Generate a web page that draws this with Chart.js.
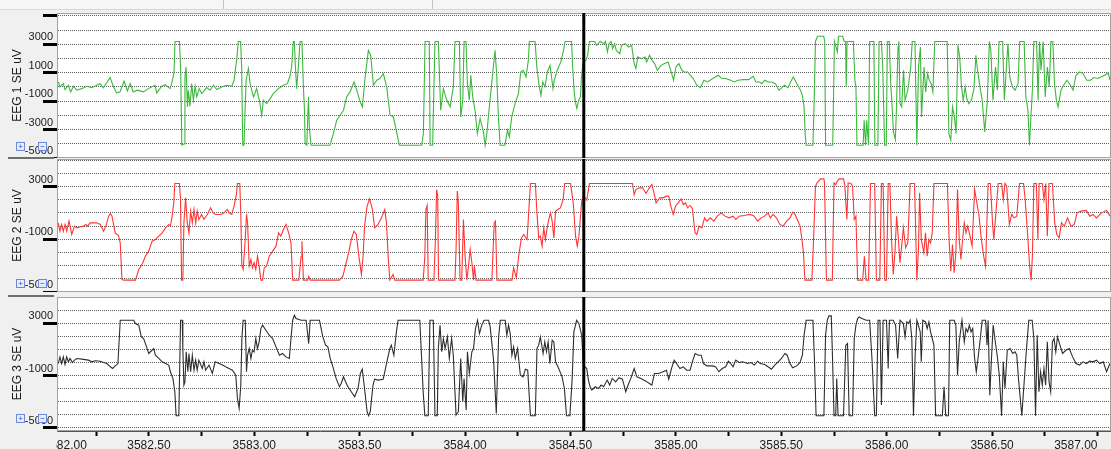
<!DOCTYPE html>
<html>
<head>
<meta charset="utf-8">
<title>EEG</title>
<script src="https://cdn.jsdelivr.net/npm/chart.js@4.4.0/dist/chart.umd.min.js"></script>
<style>
  html, body { margin: 0; padding: 0; }
  body { width: 1111px; height: 449px; background: #f0f0f0; position: relative; overflow: hidden; font-family: "Liberation Sans", Arial, sans-serif; }
  canvas { position: absolute; left: 0; }
  .topbar { position: absolute; left: 0; top: 0; width: 1111px; height: 9px; background: #f6f6f6; border-bottom: 1px solid #dadada; }
  .tab { position: absolute; top: 0; height: 9px; border-left: 1px solid #c4c4c4; }
  .sep { position: absolute; left: 8px; width: 46px; height: 2px; background: #6e6e6e; }
  .zbtn { position: absolute; width: 7px; height: 7px; border: 1px solid #6d88d8; background: #e6ecfb; color: #2b4cb3; font-size: 8px; line-height: 7px; text-align: center; }
  .axiscover { position: absolute; left: 0; top: 432px; width: 56px; height: 17px; background: #f0f0f0; }
</style>
</head>
<body>
<div class="topbar"></div>
<div class="tab" style="left:223px"></div>
<div class="tab" style="left:432px"></div>
<canvas id="eeg1" width="1111" height="145" style="top:13px"></canvas>
<canvas id="eeg2" width="1111" height="133" style="top:159px"></canvas>
<canvas id="eeg3" width="1111" height="152" style="top:297px"></canvas>
<div class="sep" style="top:157px"></div>
<div class="sep" style="top:295px"></div>
<div class="zbtn" style="left:16px;top:142px">+</div><div class="zbtn" style="left:38px;top:142px">&minus;</div>
<div class="zbtn" style="left:16px;top:279px">+</div><div class="zbtn" style="left:38px;top:279px">&minus;</div>
<div class="zbtn" style="left:16px;top:414px">+</div><div class="zbtn" style="left:38px;top:414px">&minus;</div>
<div class="axiscover"></div>
<script>
// channel names, time window and cursor
const channelNames = ['EEG 1 SE uV', 'EEG 2 SE uV', 'EEG 3 SE uV'];
const timeMin = 3582.064;
const timeMax = 3587.064;
const cursorTime = 3584.563;

// time axis ticks (seconds)
const majorTimes = [3582.0, 3582.5, 3583.0, 3583.5, 3584.0, 3584.5, 3585.0, 3585.5, 3586.0, 3586.5, 3587.0];
const minorTimes = [3582.25, 3582.75, 3583.25, 3583.75, 3584.25, 3584.75, 3585.25, 3585.75, 3586.25, 3586.75];

// amplitude grid (uV) and labelled ticks
const gridValues = [-5000, -4000, -3000, -2000, -1000, 0, 1000, 2000, 3000, 4000, 5000];
const eeg1Marks = [5000, 3000, 1000, -1000, -3000, -5000];
const eeg1Labels = [3000, 1000, -1000, -3000, -5000];
const eeg23Labels = [3000, -1000, -5000];

// samples: [time s, uV]
const eeg1Points = [
  [3582.071, 350], [3582.078, 0], [3582.094, 230], [3582.102, -190], [3582.118, 120], [3582.129, -350], [3582.142, 50],
  [3582.158, -230], [3582.181, -120], [3582.205, 50], [3582.229, -50], [3582.252, 120], [3582.268, 230], [3582.284, -70],
  [3582.316, 660], [3582.331, 50], [3582.347, -420], [3582.363, -350], [3582.382, 400], [3582.398, -280], [3582.411, 230],
  [3582.426, -350], [3582.445, -230], [3582.474, -350], [3582.505, -50], [3582.529, 120], [3582.537, -420], [3582.561, 50],
  [3582.577, 160], [3582.600, -120], [3582.608, 230], [3582.619, 980], [3582.624, 3200], [3582.645, 3200], [3582.651, 1050],
  [3582.656, -4100], [3582.667, -4020], [3582.671, 700], [3582.676, 1400], [3582.683, -1400], [3582.687, -230], [3582.695, -1360],
  [3582.703, 230], [3582.711, -940], [3582.719, 50], [3582.727, -700], [3582.739, -120], [3582.751, -470], [3582.774, -50],
  [3582.790, -230], [3582.806, 120], [3582.822, -190], [3582.845, 0], [3582.869, 120], [3582.893, 50], [3582.904, 470],
  [3582.917, 2000], [3582.924, 3200], [3582.935, 3200], [3582.940, 1400], [3582.945, -4100], [3582.951, -4100], [3582.961, 470],
  [3582.972, 1290], [3582.980, 230], [3582.996, -700], [3583.011, -120], [3583.024, -940], [3583.035, -1990], [3583.043, -940],
  [3583.059, -1170], [3583.075, -820], [3583.090, -470], [3583.114, -120], [3583.138, 120], [3583.157, 230], [3583.170, 820],
  [3583.177, 1400], [3583.185, 3200], [3583.190, 3200], [3583.195, 1400], [3583.201, -120], [3583.209, 1400], [3583.217, 3200],
  [3583.226, 3200], [3583.233, 0], [3583.238, -1640], [3583.241, -3980], [3583.249, -4100], [3583.257, -700], [3583.261, -2810],
  [3583.269, -4100], [3583.359, -4100], [3583.375, -3280], [3583.391, -2340], [3583.407, -1990], [3583.423, -1640], [3583.438, -700],
  [3583.454, -350], [3583.473, 350], [3583.486, -230], [3583.502, -1050], [3583.513, -1400], [3583.525, 590], [3583.541, 2570],
  [3583.552, 2220], [3583.565, 120], [3583.581, 470], [3583.596, 590], [3583.612, 940], [3583.628, 0], [3583.644, -1990],
  [3583.660, -2110], [3583.675, -3160], [3583.688, -4100], [3583.794, -4100], [3583.802, -3280], [3583.810, 3200], [3583.830, 3200],
  [3583.834, -4100], [3583.846, -4100], [3583.857, 3200], [3583.873, 3200], [3583.884, -1640], [3583.897, -120], [3583.913, -940],
  [3583.929, -1400], [3583.944, 0], [3583.952, 3200], [3583.973, 3200], [3583.979, -2110], [3583.989, -940], [3583.995, 3200],
  [3584.004, 3200], [3584.011, 230], [3584.020, -940], [3584.027, 820], [3584.036, -700], [3584.047, -1640], [3584.058, -3280],
  [3584.071, -2220], [3584.087, -3160], [3584.095, -4100], [3584.103, -3280], [3584.115, -1400], [3584.134, 1400], [3584.142, 2570],
  [3584.150, 820], [3584.158, -2110], [3584.166, -4100], [3584.189, -4100], [3584.201, -3040], [3584.210, -3510], [3584.221, -2110],
  [3584.237, -1170], [3584.253, -470], [3584.264, 1050], [3584.276, 1170], [3584.289, 700], [3584.300, 1870], [3584.305, 3200],
  [3584.332, 3200], [3584.340, 1400], [3584.352, 0], [3584.360, -590], [3584.368, 350], [3584.379, 0], [3584.390, 1050],
  [3584.403, 1520], [3584.417, -120], [3584.423, 470], [3584.437, 1170], [3584.454, 1760], [3584.467, 2570], [3584.474, 3200],
  [3584.505, 3200], [3584.510, 1400], [3584.518, -470], [3584.525, -1170], [3584.530, -1520], [3584.539, -940], [3584.547, -700],
  [3584.552, 700], [3584.559, 1640], [3584.573, 1870], [3584.581, 2220], [3584.590, 3200], [3584.615, 3200], [3584.624, 2930],
  [3584.641, 3200], [3584.658, 3040], [3584.666, 3200], [3584.675, 2460], [3584.683, 3040], [3584.692, 3200], [3584.700, 2690],
  [3584.709, 3040], [3584.717, 2570], [3584.734, 2340], [3584.742, 2930], [3584.759, 3040], [3584.776, 2810], [3584.790, 2930],
  [3584.802, 1640], [3584.810, 1290], [3584.819, 2110], [3584.836, 1990], [3584.853, 2110], [3584.861, 1760], [3584.875, 2220],
  [3584.887, 1870], [3584.899, 1640], [3584.912, 1170], [3584.929, 1520], [3584.946, 1640], [3584.963, 1760], [3584.980, 940],
  [3584.989, 470], [3585.000, 1400], [3585.014, 1640], [3585.028, 1170], [3585.039, 1050], [3585.056, 1050], [3585.082, 590],
  [3585.099, 120], [3585.116, -50], [3585.133, 470], [3585.150, 350], [3585.175, 590], [3585.201, 820], [3585.218, 590],
  [3585.235, 590], [3585.260, 470], [3585.277, 350], [3585.294, 470], [3585.319, 510], [3585.345, 510], [3585.367, 750],
  [3585.379, 350], [3585.396, 350], [3585.408, 230], [3585.421, 470], [3585.438, 350], [3585.455, 350], [3585.472, 230],
  [3585.489, -230], [3585.503, -50], [3585.515, 120], [3585.532, -50], [3585.544, 350], [3585.557, 700], [3585.574, 230],
  [3585.591, -230], [3585.600, -590], [3585.608, -1400], [3585.613, -3280], [3585.618, -4100], [3585.650, -4100], [3585.656, -940],
  [3585.662, 3200], [3585.672, 3560], [3585.701, 3560], [3585.706, 3200], [3585.710, -4100], [3585.744, -4100], [3585.752, 3200],
  [3585.766, 2460], [3585.771, 3560], [3585.791, 3560], [3585.798, 3200], [3585.805, 3200], [3585.808, 0], [3585.812, 3200],
  [3585.842, 3200], [3585.849, 470], [3585.854, 0], [3585.859, -4100], [3585.888, -4100], [3585.893, -2340], [3585.900, -4100],
  [3585.905, -2340], [3585.914, -4100], [3585.919, 3200], [3585.939, 3200], [3585.944, -4100], [3585.958, -4100], [3585.964, 3200],
  [3585.975, 3200], [3585.981, 1400], [3585.990, -4100], [3585.998, -4100], [3586.003, 3200], [3586.012, 3200], [3586.019, 230],
  [3586.024, -940], [3586.032, -3160], [3586.041, -3700], [3586.046, -1640], [3586.053, 2570], [3586.058, 3200], [3586.063, -1170],
  [3586.071, -1400], [3586.080, 1170], [3586.087, -940], [3586.100, -230], [3586.114, 1400], [3586.121, 3200], [3586.134, 3200],
  [3586.143, -4100], [3586.151, 1400], [3586.160, 2810], [3586.165, -2110], [3586.177, 1400], [3586.185, -350], [3586.194, 940],
  [3586.202, 470], [3586.211, 230], [3586.219, -350], [3586.228, 3200], [3586.287, 3200], [3586.295, -3280], [3586.304, -3740],
  [3586.312, -1400], [3586.321, -2110], [3586.329, -3280], [3586.338, 2930], [3586.346, 2110], [3586.355, 0], [3586.363, -940],
  [3586.372, 0], [3586.380, -820], [3586.389, -1170], [3586.402, -940], [3586.414, -120], [3586.423, 2220], [3586.431, 1170],
  [3586.440, 230], [3586.453, -940], [3586.465, -3160], [3586.477, -1050], [3586.487, 3200], [3586.494, 2570], [3586.504, -940],
  [3586.516, 1400], [3586.525, -230], [3586.533, 3200], [3586.550, 3200], [3586.558, -940], [3586.567, 1170], [3586.575, 3040],
  [3586.584, 700], [3586.596, 0], [3586.609, -230], [3586.623, 230], [3586.631, 3200], [3586.652, 3200], [3586.660, -700],
  [3586.670, -1640], [3586.677, -4100], [3586.691, -230], [3586.698, 3200], [3586.711, 3200], [3586.718, -940], [3586.725, 3200],
  [3586.732, 1170], [3586.742, 3200], [3586.752, -700], [3586.762, 1400], [3586.771, 0], [3586.779, 3200], [3586.788, 3200],
  [3586.796, 230], [3586.805, -940], [3586.813, -1400], [3586.827, -230], [3586.839, 120], [3586.855, 470], [3586.872, 120],
  [3586.884, -230], [3586.898, 820], [3586.915, 1050], [3586.932, 940], [3586.949, 470], [3586.966, 470], [3586.983, 660],
  [3587.000, 590], [3587.017, 700], [3587.034, 820], [3587.051, 980], [3587.059, 470]
];

const eeg2Points = [
  [3582.070, 250], [3582.078, -380], [3582.086, 130], [3582.094, -380], [3582.102, 130], [3582.110, -380], [3582.121, 380],
  [3582.134, -630], [3582.147, 0], [3582.158, -130], [3582.174, -50], [3582.190, 0], [3582.201, 130], [3582.210, 0],
  [3582.221, 250], [3582.253, 250], [3582.269, 130], [3582.285, -380], [3582.296, 0], [3582.309, 760], [3582.317, 960],
  [3582.325, 760], [3582.340, -510], [3582.356, -710], [3582.364, -1270], [3582.372, -4050], [3582.380, -4100], [3582.436, -4100],
  [3582.452, -3290], [3582.471, -2780], [3582.483, -2280], [3582.499, -1900], [3582.515, -1140], [3582.531, -1010], [3582.547, -760],
  [3582.563, -510], [3582.579, -130], [3582.594, 130], [3582.602, 0], [3582.610, 760], [3582.618, 1770], [3582.623, 3240],
  [3582.645, 3240], [3582.650, 2020], [3582.655, -4100], [3582.661, -4100], [3582.666, 250], [3582.674, 2150], [3582.682, 250],
  [3582.690, -510], [3582.698, 1140], [3582.706, 250], [3582.714, 1270], [3582.722, 250], [3582.729, 1140], [3582.737, 510],
  [3582.750, 890], [3582.761, 510], [3582.777, 890], [3582.793, 1390], [3582.804, 1010], [3582.817, 890], [3582.841, 890],
  [3582.856, 1010], [3582.872, 1270], [3582.880, 1010], [3582.893, 890], [3582.904, 1520], [3582.915, 2400], [3582.920, 3240],
  [3582.931, 3240], [3582.936, 890], [3582.941, -3040], [3582.947, -3290], [3582.957, -1010], [3582.963, 890], [3582.968, 250],
  [3582.976, -3040], [3582.984, -2530], [3582.991, -3160], [3582.999, -2780], [3583.007, -3290], [3583.015, -2280], [3583.023, -3040],
  [3583.031, -4100], [3583.039, -4100], [3583.047, -3160], [3583.058, -3040], [3583.071, -2280], [3583.087, -1900], [3583.103, -1520],
  [3583.115, -510], [3583.126, -760], [3583.138, -250], [3583.150, 130], [3583.163, -510], [3583.174, -1270], [3583.182, -4100],
  [3583.211, -4100], [3583.222, -2280], [3583.226, -1140], [3583.233, -4100], [3583.253, -4100], [3583.258, -3800], [3583.265, -4100],
  [3583.404, -4100], [3583.420, -3800], [3583.436, -2780], [3583.449, -1900], [3583.460, -1010], [3583.473, -380], [3583.484, -630],
  [3583.496, -2280], [3583.508, -3670], [3583.516, -2280], [3583.523, 0], [3583.535, 1520], [3583.547, 2070], [3583.560, 1270],
  [3583.571, -130], [3583.587, 130], [3583.603, 630], [3583.619, 1270], [3583.627, 250], [3583.635, -2280], [3583.643, -4100],
  [3583.658, -3670], [3583.666, -4100], [3583.801, -4100], [3583.809, -2280], [3583.814, 1270], [3583.820, 1570], [3583.825, -4100],
  [3583.852, -4100], [3583.859, -1010], [3583.865, 2780], [3583.870, 2280], [3583.874, -4100], [3583.952, -4100], [3583.957, -1770],
  [3583.963, 2660], [3583.968, 1770], [3583.976, -4100], [3583.984, -4100], [3583.992, 510], [3584.000, -2280], [3584.008, -4100],
  [3584.016, -3040], [3584.024, -1770], [3584.032, -2780], [3584.040, -4100], [3584.044, -3040], [3584.052, -4100], [3584.127, -4100],
  [3584.138, 250], [3584.144, 380], [3584.151, -4100], [3584.222, -4100], [3584.230, -3160], [3584.243, -3920], [3584.254, -2280],
  [3584.267, -890], [3584.278, -630], [3584.294, -1010], [3584.302, 1140], [3584.310, 3240], [3584.333, 3240], [3584.341, 1010],
  [3584.349, -890], [3584.357, -760], [3584.365, -1520], [3584.373, -130], [3584.381, -1010], [3584.389, -130], [3584.397, 510],
  [3584.405, 1010], [3584.413, 380], [3584.421, -890], [3584.429, 1140], [3584.440, 1270], [3584.452, 1390], [3584.465, 2020],
  [3584.472, 3240], [3584.500, 3240], [3584.513, 1770], [3584.524, -760], [3584.532, -1520], [3584.540, -760], [3584.553, 1900],
  [3584.561, 2280], [3584.569, 2150], [3584.577, 1970], [3584.590, 3240], [3584.794, 3240], [3584.802, 2400], [3584.810, 2780],
  [3584.826, 2910], [3584.842, 2910], [3584.858, 2480], [3584.874, 2910], [3584.886, 3160], [3584.898, 2400], [3584.906, 1770],
  [3584.923, 2150], [3584.939, 2150], [3584.955, 2280], [3584.966, 2280], [3584.976, 1520], [3584.987, 890], [3584.998, 1520],
  [3585.011, 1770], [3585.024, 2070], [3585.035, 1640], [3585.046, 1770], [3585.056, 1390], [3585.067, 1570], [3585.078, 1320],
  [3585.091, -510], [3585.099, -630], [3585.110, 0], [3585.123, -130], [3585.136, 630], [3585.147, 380], [3585.163, 630],
  [3585.180, 380], [3585.196, 760], [3585.216, 1010], [3585.233, 760], [3585.252, 630], [3585.271, 760], [3585.284, 510],
  [3585.300, 760], [3585.324, 810], [3585.348, 890], [3585.368, 810], [3585.388, 380], [3585.404, 630], [3585.420, 760],
  [3585.437, 1010], [3585.448, 630], [3585.461, 890], [3585.477, 630], [3585.493, 130], [3585.509, 0], [3585.525, 380],
  [3585.541, 630], [3585.554, 1060], [3585.565, 890], [3585.576, 510], [3585.589, 0], [3585.597, -890], [3585.605, -2020],
  [3585.612, -4100], [3585.645, -4100], [3585.653, -1010], [3585.662, 3040], [3585.670, 3290], [3585.686, 3590], [3585.702, 3590],
  [3585.705, 3290], [3585.714, -4100], [3585.742, -4100], [3585.750, 3290], [3585.758, 3160], [3585.766, 3420], [3585.774, 3590],
  [3585.795, 3590], [3585.801, 3160], [3585.811, 510], [3585.817, 3290], [3585.830, 3240], [3585.838, 3040], [3585.846, 510],
  [3585.854, 760], [3585.862, -4100], [3585.886, -4100], [3585.894, -2280], [3585.902, -4100], [3585.914, -4100], [3585.923, 3240],
  [3585.943, 3240], [3585.951, -4100], [3585.967, -4100], [3585.975, 3240], [3585.983, 3240], [3585.991, -4100], [3585.999, -4100],
  [3586.007, 3240], [3586.015, 3240], [3586.023, -1010], [3586.031, -3670], [3586.039, -2020], [3586.047, 760], [3586.055, -890],
  [3586.063, -2780], [3586.071, -1520], [3586.079, -130], [3586.090, -1640], [3586.100, -1270], [3586.111, 3240], [3586.132, 3240],
  [3586.143, -4100], [3586.151, -1640], [3586.156, 2530], [3586.164, -1010], [3586.176, -2020], [3586.184, -510], [3586.192, -2280],
  [3586.200, -1010], [3586.208, -1270], [3586.216, -510], [3586.224, 3240], [3586.288, 3240], [3586.296, -1010], [3586.304, -3420],
  [3586.312, -1390], [3586.320, -3540], [3586.328, -2020], [3586.336, 2780], [3586.344, -1010], [3586.352, -2530], [3586.360, -1010],
  [3586.368, 250], [3586.376, -510], [3586.384, 0], [3586.392, -510], [3586.405, -1520], [3586.417, 2780], [3586.425, 2020],
  [3586.437, 890], [3586.449, -1010], [3586.460, -2280], [3586.469, -3040], [3586.481, 3240], [3586.492, 3240], [3586.502, 250],
  [3586.508, -1010], [3586.518, 1010], [3586.529, 3240], [3586.545, 3240], [3586.553, 2020], [3586.561, 3240], [3586.569, 3040],
  [3586.582, 130], [3586.593, 890], [3586.604, 630], [3586.617, 760], [3586.630, 3240], [3586.649, 3240], [3586.657, 2020],
  [3586.669, -760], [3586.678, -3040], [3586.685, -4100], [3586.691, -2280], [3586.698, 3240], [3586.710, 3240], [3586.717, -1010],
  [3586.723, 3240], [3586.738, 3240], [3586.746, 2020], [3586.754, 3240], [3586.762, -760], [3586.770, 3240], [3586.786, 3240],
  [3586.797, 250], [3586.807, -630], [3586.818, -890], [3586.829, 250], [3586.842, 0], [3586.858, 630], [3586.874, 0],
  [3586.890, 130], [3586.903, 1010], [3586.922, 1140], [3586.947, 1200], [3586.963, 760], [3586.979, 890], [3586.995, 630],
  [3587.019, 1010], [3587.043, 1200], [3587.059, 760]
];

const eeg3Points = [
  [3582.070, -80], [3582.078, 430], [3582.086, -80], [3582.094, 430], [3582.102, -150], [3582.110, 430], [3582.118, 50],
  [3582.126, 310], [3582.137, 0], [3582.147, 180], [3582.158, 310], [3582.182, 260], [3582.213, 180], [3582.229, 50],
  [3582.245, 130], [3582.269, 100], [3582.285, 0], [3582.301, -80], [3582.317, -330], [3582.328, -460], [3582.340, -260],
  [3582.353, -80], [3582.364, 3240], [3582.372, 3240], [3582.428, 3240], [3582.436, 2980], [3582.452, 2860], [3582.464, 1960],
  [3582.475, 1840], [3582.486, 1330], [3582.499, 690], [3582.515, 940], [3582.523, 1070], [3582.531, 560], [3582.547, 310],
  [3582.563, 50], [3582.579, -80], [3582.594, -200], [3582.602, -710], [3582.614, -1220], [3582.623, -2240], [3582.629, -4080],
  [3582.642, -4080], [3582.650, 3240], [3582.658, 3240], [3582.661, 1070], [3582.666, -1730], [3582.671, -1480], [3582.677, 820],
  [3582.685, -710], [3582.690, 690], [3582.698, -710], [3582.706, 560], [3582.714, -590], [3582.722, 180], [3582.729, -590],
  [3582.737, 180], [3582.753, -460], [3582.761, 50], [3582.769, -590], [3582.785, -200], [3582.801, -840], [3582.814, 50],
  [3582.833, -80], [3582.849, -200], [3582.864, -330], [3582.880, -460], [3582.896, -590], [3582.912, -970], [3582.920, -2750],
  [3582.928, -3520], [3582.936, -1730], [3582.941, 1840], [3582.947, 3240], [3582.957, 3240], [3582.963, -710], [3582.968, 560],
  [3582.976, 1070], [3582.984, 310], [3582.991, 940], [3582.999, 820], [3583.007, 1840], [3583.015, 1070], [3583.023, 1580],
  [3583.031, 2600], [3583.039, 2860], [3583.055, 2470], [3583.071, 2090], [3583.087, 1840], [3583.103, 1200], [3583.119, 560],
  [3583.134, 690], [3583.150, 430], [3583.166, 310], [3583.174, 1840], [3583.182, 3240], [3583.190, 3620], [3583.198, 3370],
  [3583.222, 3240], [3583.246, 3240], [3583.258, 1450], [3583.265, 3240], [3583.309, 3240], [3583.325, 1960], [3583.338, 1330],
  [3583.349, 1200], [3583.360, 310], [3583.373, -330], [3583.388, -1220], [3583.404, -1860], [3583.412, -1610], [3583.423, -1100],
  [3583.433, -1480], [3583.444, -1860], [3583.460, -2240], [3583.476, -2630], [3583.492, -1990], [3583.503, -840], [3583.512, -510],
  [3583.523, -1990], [3583.535, -3770], [3583.542, -4080], [3583.550, -3770], [3583.563, -1730], [3583.571, -1280], [3583.587, -1350],
  [3583.611, -1280], [3583.619, -710], [3583.627, -80], [3583.643, 1070], [3583.650, 1330], [3583.662, 560], [3583.674, 2350],
  [3583.682, 3240], [3583.785, 3240], [3583.793, 560], [3583.801, -2240], [3583.809, -4080], [3583.825, -4080], [3583.833, 3240],
  [3583.849, 3240], [3583.857, -4080], [3583.868, -4080], [3583.873, 1070], [3583.881, 2860], [3583.889, 820], [3583.897, 1840],
  [3583.905, 1070], [3583.916, 1960], [3583.925, 310], [3583.936, 1840], [3583.944, 560], [3583.957, -4030], [3583.968, -3770],
  [3583.979, 310], [3583.989, -3010], [3583.995, -1220], [3584.005, -3650], [3584.011, 820], [3584.020, -840], [3584.032, 820],
  [3584.040, 1070], [3584.049, 2600], [3584.059, 3240], [3584.068, 2220], [3584.079, 2860], [3584.090, 3240], [3584.111, 3240],
  [3584.119, 2730], [3584.135, 180], [3584.148, -3900], [3584.159, 1960], [3584.167, 3240], [3584.190, 3240], [3584.198, 2090],
  [3584.206, 2860], [3584.214, 2220], [3584.222, 560], [3584.230, 1200], [3584.238, 310], [3584.249, 1070], [3584.262, -970],
  [3584.275, -1100], [3584.286, -510], [3584.297, -590], [3584.310, -4080], [3584.333, -4080], [3584.341, 1070], [3584.349, 1330],
  [3584.357, 1960], [3584.370, 690], [3584.378, 1580], [3584.386, 820], [3584.394, 1580], [3584.402, -80], [3584.413, 1710],
  [3584.421, 1580], [3584.429, 50], [3584.444, -460], [3584.460, -1100], [3584.471, -1990], [3584.481, -4080], [3584.497, -4080],
  [3584.508, -1220], [3584.516, 2350], [3584.529, 3240], [3584.540, 2980], [3584.553, 2090], [3584.561, -200], [3584.569, -330],
  [3584.577, -460], [3584.585, -1350], [3584.593, -1860], [3584.601, -2120], [3584.617, -1860], [3584.633, -1990], [3584.645, -1730],
  [3584.657, -1860], [3584.674, -1350], [3584.686, -1730], [3584.698, -1220], [3584.714, -1480], [3584.730, -1170], [3584.746, -1280],
  [3584.754, -1730], [3584.762, -2240], [3584.770, -1860], [3584.786, -1220], [3584.802, -460], [3584.815, -1100], [3584.834, -1220],
  [3584.858, -1430], [3584.874, -1610], [3584.886, -1730], [3584.898, -840], [3584.918, -840], [3584.939, -710], [3584.955, -590],
  [3584.966, -1280], [3584.979, -460], [3584.992, 180], [3585.003, -80], [3585.019, -460], [3585.035, -330], [3585.051, -590],
  [3585.067, -590], [3585.078, 50], [3585.091, 690], [3585.107, 560], [3585.120, 560], [3585.131, -80], [3585.147, -260],
  [3585.172, -260], [3585.188, -330], [3585.204, -710], [3585.220, -460], [3585.236, -330], [3585.249, 100], [3585.260, -80],
  [3585.271, -330], [3585.284, 180], [3585.300, 0], [3585.316, 50], [3585.340, -80], [3585.356, 0], [3585.372, -200],
  [3585.388, 100], [3585.400, -80], [3585.421, -150], [3585.437, -330], [3585.453, -510], [3585.469, -200], [3585.485, 50],
  [3585.501, 310], [3585.517, 690], [3585.528, 560], [3585.541, -80], [3585.554, -410], [3585.573, -260], [3585.589, 0],
  [3585.600, 560], [3585.608, 2090], [3585.618, 3240], [3585.650, 3240], [3585.657, 310], [3585.665, -4080], [3585.702, -4080],
  [3585.710, 2090], [3585.718, 3240], [3585.726, 3570], [3585.737, 3570], [3585.743, 310], [3585.750, -4080], [3585.758, -4080],
  [3585.763, -1220], [3585.769, -4080], [3585.795, -4080], [3585.806, 1330], [3585.814, 1450], [3585.822, -4080], [3585.838, -4080],
  [3585.846, 1840], [3585.854, 2860], [3585.862, 3370], [3585.870, 3490], [3585.882, 3370], [3585.903, 3240], [3585.919, 3240],
  [3585.930, 310], [3585.943, -4080], [3585.951, -4080], [3585.959, 3240], [3585.968, 3240], [3585.975, -3260], [3585.983, 3240],
  [3585.999, 3240], [3586.007, -460], [3586.013, 3240], [3586.031, 3240], [3586.042, 2860], [3586.052, 310], [3586.063, 3240],
  [3586.079, 2980], [3586.087, 1960], [3586.095, 3110], [3586.103, 2980], [3586.111, 3240], [3586.119, 1840], [3586.127, -4080],
  [3586.135, 560], [3586.143, 3240], [3586.159, 2350], [3586.164, 50], [3586.171, 3240], [3586.184, 3110], [3586.192, 2600],
  [3586.200, 3110], [3586.208, 2350], [3586.216, 1840], [3586.224, 1330], [3586.232, -4080], [3586.264, -4080], [3586.272, -1860],
  [3586.280, -4080], [3586.293, -4080], [3586.299, 3240], [3586.320, 3240], [3586.328, 2860], [3586.336, -970], [3586.344, 1580],
  [3586.357, 3240], [3586.368, 1580], [3586.376, 2600], [3586.384, 2350], [3586.392, 2860], [3586.400, 2350], [3586.408, 2600],
  [3586.417, 310], [3586.425, -710], [3586.433, 310], [3586.444, 1840], [3586.453, 3240], [3586.469, 3240], [3586.476, 1330],
  [3586.481, 3240], [3586.489, -2500], [3586.497, 310], [3586.505, 2860], [3586.513, 1840], [3586.524, 560], [3586.534, -970],
  [3586.545, -4080], [3586.553, 50], [3586.561, -1990], [3586.572, 940], [3586.585, 1070], [3586.598, 690], [3586.609, 820],
  [3586.617, 560], [3586.625, -1220], [3586.641, -4080], [3586.662, 820], [3586.674, 3240], [3586.690, 3240], [3586.698, 1840],
  [3586.706, -4080], [3586.714, 2090], [3586.722, -2240], [3586.730, -710], [3586.738, -1730], [3586.746, -460], [3586.754, -1730],
  [3586.762, 1580], [3586.770, -1480], [3586.778, -2240], [3586.786, 1580], [3586.794, 1840], [3586.802, 820], [3586.810, 1960],
  [3586.834, 690], [3586.850, 940], [3586.866, 1070], [3586.882, 430], [3586.898, -80], [3586.915, -200], [3586.931, 50],
  [3586.947, -80], [3586.963, 100], [3586.979, 50], [3586.995, 180], [3587.011, -80], [3587.027, 50], [3587.043, -710],
  [3587.059, -80]
];

const FONT = 'Liberation Sans, Arial, sans-serif';

// white plot background, frame and the time cursor
const plotFrame = {
  id: 'plotFrame',
  beforeDraw(chart) {
    const { ctx, chartArea: a } = chart;
    ctx.save();
    ctx.fillStyle = '#ffffff';
    ctx.fillRect(a.left, a.top, a.right - a.left, a.bottom - a.top);
    ctx.restore();
  },
  afterDraw(chart) {
    const { ctx, chartArea: a, scales } = chart;
    ctx.save();
    ctx.strokeStyle = '#a2a2a2';
    ctx.lineWidth = 1;
    ctx.strokeRect(a.left + 0.5, a.top + 0.5, a.right - a.left - 1, a.bottom - a.top - 1);
    const x = scales.x.getPixelForValue(cursorTime);
    ctx.strokeStyle = '#000';
    ctx.lineWidth = 3;
    ctx.beginPath();
    ctx.moveTo(x, a.top);
    ctx.lineTo(x, a.bottom);
    ctx.stroke();
    ctx.restore();
  }
};

function yAxis(name, min, max, marks, labels) {
  return {
    min: min,
    max: max,
    afterBuildTicks: s => { s.ticks = gridValues.map(v => ({ value: v })); },
    afterFit: s => { s.width = 57; s.paddingTop = 0; s.paddingBottom = 0; },
    ticks: {
      autoSkip: false,
      callback: v => labels.includes(v) ? String(v) : '',
      labelOffset: -7,
      padding: -10,
      color: '#1a1a1a',
      font: { family: FONT, size: 11 }
    },
    grid: {
      color: '#5c5c5c',
      lineWidth: 1,
      tickLength: 14,
      tickWidth: 3,
      tickBorderDash: [],
      tickColor: c => (c.tick && marks.includes(c.tick.value)) ? '#000' : 'rgba(0,0,0,0)'
    },
    border: { display: true, color: '#8c8c8c', width: 1, dash: [1, 1] },
    title: {
      display: true,
      text: name,
      color: '#1a1a1a',
      font: { family: FONT, size: 12 },
      padding: { top: 10, bottom: 0 }
    }
  };
}

function xAxis(show) {
  const axis = { type: 'linear', min: timeMin, max: timeMax, display: show };
  if (!show) return axis;
  return Object.assign(axis, {
    afterBuildTicks: s => {
      s.ticks = majorTimes.map(v => ({ value: v, major: true }))
        .concat(minorTimes.map(v => ({ value: v })))
        .sort((a, b) => a.value - b.value);
    },
    afterFit: s => { s.height = 18; s.paddingLeft = 0; s.paddingRight = 0; },
    ticks: {
      autoSkip: false,
      maxRotation: 0,
      align: 'inner',
      padding: 2,
      color: '#1a1a1a',
      font: { family: FONT, size: 12 },
      callback: (v, i, t) => t[i].major ? v.toFixed(2) : ''
    },
    grid: { drawOnChartArea: false, tickLength: 5, tickWidth: 2, tickColor: '#000' },
    border: { display: true, color: '#555', width: 1 }
  });
}

function makeChart(id, points, color, y, showTime) {
  return new Chart(document.getElementById(id), {
    type: 'line',
    data: {
      datasets: [{
        data: points.map(p => ({ x: p[0], y: p[1] })),
        borderColor: color,
        borderWidth: 1.1,
        pointRadius: 0,
        tension: 0,
        fill: false
      }]
    },
    options: {
      responsive: false,
      animation: false,
      devicePixelRatio: 1,
      layout: { padding: 0 },
      plugins: { legend: { display: false }, tooltip: { enabled: false } },
      scales: { x: xAxis(showTime), y: y }
    },
    plugins: [plotFrame]
  });
}

makeChart('eeg1', eeg1Points, '#3cb83c', yAxis(channelNames[0], -5000, 5200, eeg1Marks, eeg1Labels), false);
makeChart('eeg2', eeg2Points, '#ff3535', yAxis(channelNames[1], -5000, 5100, eeg23Labels, eeg23Labels), false);
makeChart('eeg3', eeg3Points, '#2e2e2e', yAxis(channelNames[2], -5250, 5020, eeg23Labels, eeg23Labels), true);
</script>
</body>
</html>
